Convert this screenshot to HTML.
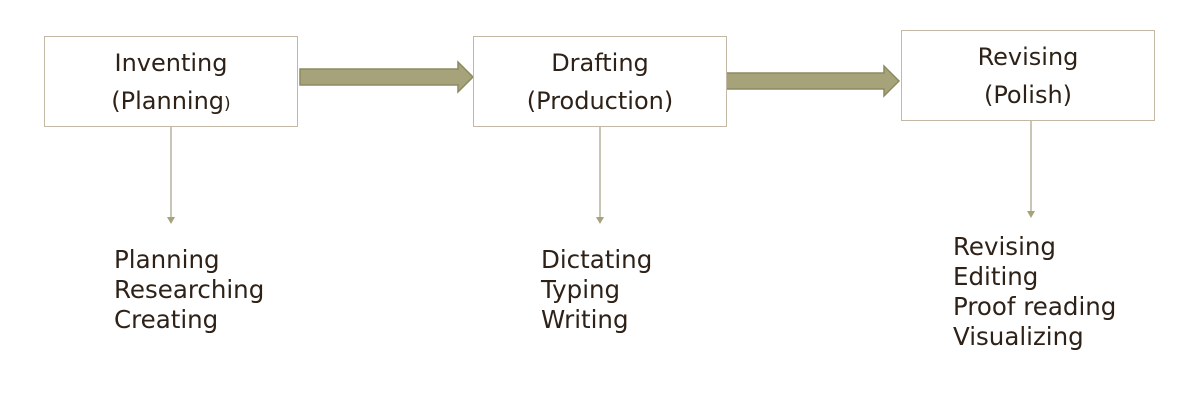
<!DOCTYPE html>
<html><head><style>
body{margin:0;width:1198px;height:403px;background:#fff;position:relative;overflow:hidden;font-family:"DejaVu Sans","Liberation Sans",sans-serif;color:#2e2218}
.box{position:absolute;width:254px;height:91px;border:1.5px solid #c3b8a6;background:#fff;text-align:center;font-size:24px;line-height:38px;box-sizing:border-box;padding-top:7px}
.list{position:absolute;font-size:24.5px;line-height:30px}
</style></head><body>
<svg width="1198" height="403" style="position:absolute;left:0;top:0">
<g fill="#a6a37a" stroke="#8c8a60" stroke-width="1.5">
<polygon points="300,69 458,69 458,62 473,77 458,92 458,85 300,85"/>
<polygon points="726,73 884,73 884,66 899,81 884,96 884,89 726,89"/>
</g>
<g stroke="#b5b29a" stroke-width="1.5" fill="#a6a37a">
<line x1="171" y1="127" x2="171" y2="218"/><polygon points="167,217 175,217 171,224" stroke="none"/>
<line x1="600" y1="127" x2="600" y2="218"/><polygon points="596,217 604,217 600,224" stroke="none"/>
<line x1="1031" y1="121" x2="1031" y2="212"/><polygon points="1027,211 1035,211 1031,218" stroke="none"/>
</g>
</svg>
<div class="box" style="left:44px;top:36px">Inventing<br>(Planning<span style="font-size:17px">)</span></div>
<div class="box" style="left:473px;top:36px">Drafting<br>(Production)</div>
<div class="box" style="left:901px;top:30px">Revising<br>(Polish)</div>
<div class="list" style="left:114px;top:245px">Planning<br>Researching<br>Creating</div>
<div class="list" style="left:541px;top:245px">Dictating<br>Typing<br>Writing</div>
<div class="list" style="left:953px;top:232px">Revising<br>Editing<br>Proof reading<br>Visualizing</div>
</body></html>
